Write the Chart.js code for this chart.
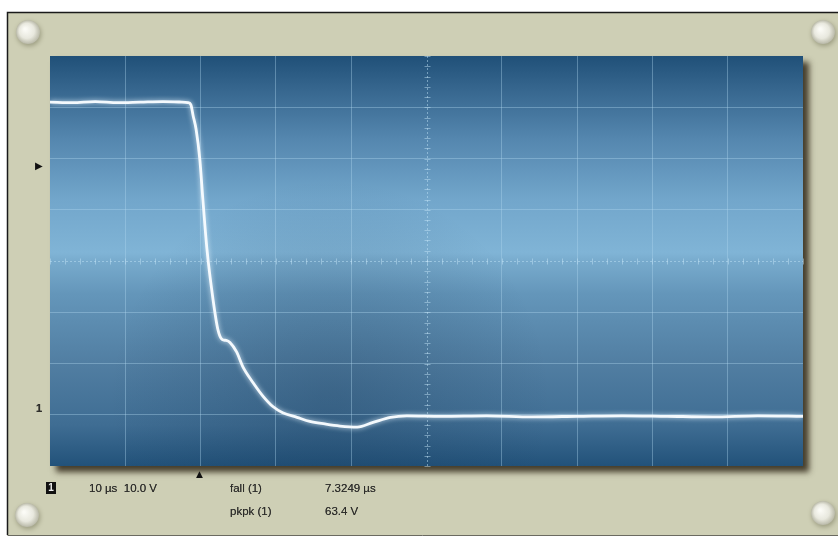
<!DOCTYPE html>
<html>
<head>
<meta charset="utf-8">
<script src="https://cdn.jsdelivr.net/npm/chart.js@4/dist/chart.umd.min.js"></script>
<style>
  html, body { margin: 0; padding: 0; background: #ffffff; }
  #wrap { position: relative; width: 838px; height: 537px; }
  canvas { position: absolute; left: 0; top: 0; }
  .lbl { position: absolute; font-family: "Liberation Sans", Arial, sans-serif; font-size: 11.5px; color: #2e2e2a; white-space: nowrap; line-height: 12px; text-shadow: 0 0 0.6px #444; }
  .badge { position: absolute; background: #111; color: #eee; font-family: "Liberation Sans", Arial, sans-serif; font-weight: bold; font-size: 10px; line-height: 12px; width: 10px; text-align: center; }
  .mark { position: absolute; font-family: "DejaVu Sans", sans-serif; color: #111; line-height: 10px; }
</style>
</head>
<body>
<div id="wrap">
  <canvas id="scope" width="838" height="537"></canvas>
  <div class="mark" style="left:35px; top:161px; font-size:10px;">&#9654;</div>
  <div class="lbl" style="left:36px; top:402px; font-weight:bold; font-size:11px;">1</div>
  <div class="badge" style="left:46px; top:482px;">1</div>
  <div class="lbl" style="left:89px; top:482px;">10 &micro;s&nbsp; 10.0 V</div>
  <div class="mark" style="left:196px; top:469px; font-size:9px;">&#9650;</div>
  <div class="lbl" style="left:230px; top:482px;">fall (1)</div>
  <div class="lbl" style="left:325px; top:482px;">7.3249 &micro;s</div>
  <div class="lbl" style="left:230px; top:505px;">pkpk (1)</div>
  <div class="lbl" style="left:325px; top:505px;">63.4 V</div>
</div>
<script>
// Channel 1 trace: time in microseconds, amplitude in volts
const timeUs = [0, 3, 6, 9, 12, 15, 17.5, 18.3, 18.7, 19.0, 19.4, 19.9, 20.3, 20.85, 21.65, 22.3,
  22.85, 23.4, 23.9, 24.8, 25.6, 26.95, 28.3, 29.6, 30.9, 32.8, 34.5, 36.5, 38.5, 40.8, 42.9,
  45.2, 47.4, 52, 58, 64, 70, 76, 82, 88, 94, 100];
const volts = [61.0, 60.9, 61.1, 60.9, 61.0, 61.1, 61.0, 60.9, 60.5, 58.4, 55.7, 49.8, 42.0, 32.2,
  22.5, 16.6, 14.7, 14.5, 14.1, 12.2, 9.4, 6.3, 3.6, 1.6, 0.4, -0.5, -1.3, -1.8, -2.2, -2.4, -1.5,
  -0.5, -0.2, -0.3, -0.2, -0.4, -0.3, -0.2, -0.3, -0.4, -0.2, -0.3];

// Graticule: 10 horizontal and 8 vertical divisions
const timeRange = [0, 100];      // 10 us/div
const voltRange = [-10, 70];     // 10 V/div
const divTime = 10;
const divVolt = 10;

const points = timeUs.map((t, i) => ({ x: t, y: volts[i] }));

const gridColor = 'rgba(175,215,240,0.38)';

function screw(ctx, x, y) {
  ctx.save();
  ctx.shadowColor = 'rgba(90,90,60,0.45)';
  ctx.shadowBlur = 5;
  ctx.shadowOffsetX = 1;
  ctx.shadowOffsetY = 2;
  const g = ctx.createRadialGradient(x - 3, y - 3, 1, x, y, 12);
  g.addColorStop(0, '#fbfbf6');
  g.addColorStop(0.6, '#e8e8de');
  g.addColorStop(1, '#b9b9a8');
  ctx.fillStyle = g;
  ctx.beginPath();
  ctx.arc(x, y, 12, 0, Math.PI * 2);
  ctx.fill();
  ctx.restore();
}

const bezelPlugin = {
  id: 'bezel',
  beforeDraw(chart) {
    const ctx = chart.ctx;
    const a = chart.chartArea;
    ctx.save();
    ctx.fillStyle = '#ffffff';
    ctx.fillRect(0, 0, chart.width, chart.height);
    // instrument panel
    ctx.fillStyle = '#cecfb5';
    ctx.fillRect(7, 12, chart.width - 7, 523);
    ctx.strokeStyle = '#1a1a1a';
    ctx.lineWidth = 1.5;
    ctx.beginPath();
    ctx.moveTo(chart.width, 12.5); ctx.lineTo(7.5, 12.5); ctx.lineTo(7.5, 535);
    ctx.stroke();
    ctx.strokeStyle = '#6a6a60';
    ctx.lineWidth = 1;
    ctx.beginPath();
    ctx.moveTo(7.5, 535.5); ctx.lineTo(chart.width, 535.5);
    ctx.stroke();
    screw(ctx, 28, 32);
    screw(ctx, 823, 32);
    screw(ctx, 27, 515);
    screw(ctx, 823, 513);
    // display with drop shadow
    ctx.save();
    ctx.shadowColor = 'rgba(45,35,20,0.85)';
    ctx.shadowBlur = 6;
    ctx.shadowOffsetX = 6;
    ctx.shadowOffsetY = 6;
    ctx.fillStyle = '#2b5a80';
    ctx.fillRect(a.left, a.top, a.right - a.left, a.bottom - a.top);
    ctx.restore();
    const h = a.bottom - a.top;
    const g = ctx.createLinearGradient(0, a.top, 0, a.bottom);
    g.addColorStop(0, '#205078');
    g.addColorStop(0.08, '#36668e');
    g.addColorStop(0.2, '#5486ae');
    g.addColorStop(0.35, '#72a6cb');
    g.addColorStop(0.48, '#80b4d6');
    g.addColorStop(0.5, '#78abcd');
    g.addColorStop(0.58, '#6496ba');
    g.addColorStop(0.75, '#517ea2');
    g.addColorStop(0.9, '#3f6d93');
    g.addColorStop(1, '#22527a');
    ctx.fillStyle = g;
    ctx.fillRect(a.left, a.top, a.right - a.left, h);
    // soft darkening in lower middle of display
    const r = ctx.createRadialGradient(330, 400, 10, 330, 400, 220);
    r.addColorStop(0, 'rgba(20,50,80,0.25)');
    r.addColorStop(1, 'rgba(20,50,80,0)');
    ctx.fillStyle = r;
    ctx.fillRect(a.left, a.top, a.right - a.left, h);
    ctx.restore();
  },
  beforeDatasetsDraw(chart) {
    // centre axes with minor tick marks (5 per division)
    const ctx = chart.ctx;
    const a = chart.chartArea;
    const xs = chart.scales.x, ys = chart.scales.y;
    const cx = Math.round(xs.getPixelForValue((timeRange[0] + timeRange[1]) / 2)) + 0.5;
    const cy = Math.round(ys.getPixelForValue((voltRange[0] + voltRange[1]) / 2)) + 0.5;
    ctx.save();
    ctx.strokeStyle = 'rgba(190,225,245,0.5)';
    ctx.lineWidth = 1;
    ctx.setLineDash([2, 2]);
    ctx.beginPath();
    ctx.moveTo(cx, a.top); ctx.lineTo(cx, a.bottom);
    ctx.moveTo(a.left, cy); ctx.lineTo(a.right, cy);
    ctx.stroke();
    ctx.setLineDash([]);
    ctx.strokeStyle = 'rgba(200,230,248,0.45)';
    ctx.beginPath();
    for (let t = timeRange[0]; t <= timeRange[1]; t += divTime / 5) {
      const px = Math.round(xs.getPixelForValue(t)) + 0.5;
      ctx.moveTo(px, cy - 3); ctx.lineTo(px, cy + 3);
    }
    for (let v = voltRange[0]; v <= voltRange[1]; v += divVolt / 5) {
      const py = Math.round(ys.getPixelForValue(v)) + 0.5;
      ctx.moveTo(cx - 3, py); ctx.lineTo(cx + 3, py);
    }
    ctx.stroke();
    ctx.restore();
  },
  beforeDatasetDraw(chart) {
    const ctx = chart.ctx;
    ctx.save();
    ctx.shadowColor = 'rgba(230,245,255,0.9)';
    ctx.shadowBlur = 5;
  },
  afterDatasetDraw(chart) {
    chart.ctx.restore();
  }
};

const isCentre = (v, range) => Math.abs(v - (range[0] + range[1]) / 2) < 1e-6;

new Chart(document.getElementById('scope'), {
  type: 'line',
  data: {
    datasets: [{
      label: 'CH1',
      data: points,
      borderColor: 'rgba(248,252,255,0.97)',
      borderWidth: 2.8,
      pointRadius: 0,
      cubicInterpolationMode: 'monotone',
      fill: false
    }]
  },
  options: {
    responsive: false,
    animation: false,
    events: [],
    layout: { padding: { left: 50, top: 56, right: 35, bottom: 71 } },
    plugins: { legend: { display: false }, tooltip: { enabled: false } },
    scales: {
      x: {
        type: 'linear',
        min: timeRange[0], max: timeRange[1],
        ticks: { display: false, stepSize: divTime },
        border: { display: false },
        grid: {
          drawTicks: false, tickLength: 0,
          color: c => (isCentre(c.tick.value, timeRange) || c.tick.value === timeRange[0] || c.tick.value === timeRange[1]) ? 'rgba(0,0,0,0)' : gridColor
        }
      },
      y: {
        type: 'linear',
        min: voltRange[0], max: voltRange[1],
        ticks: { display: false, stepSize: divVolt },
        border: { display: false },
        grid: {
          drawTicks: false, tickLength: 0,
          color: c => (isCentre(c.tick.value, voltRange) || c.tick.value === voltRange[0] || c.tick.value === voltRange[1]) ? 'rgba(0,0,0,0)' : gridColor
        }
      }
    }
  },
  plugins: [bezelPlugin]
});
</script>
</body>
</html>
